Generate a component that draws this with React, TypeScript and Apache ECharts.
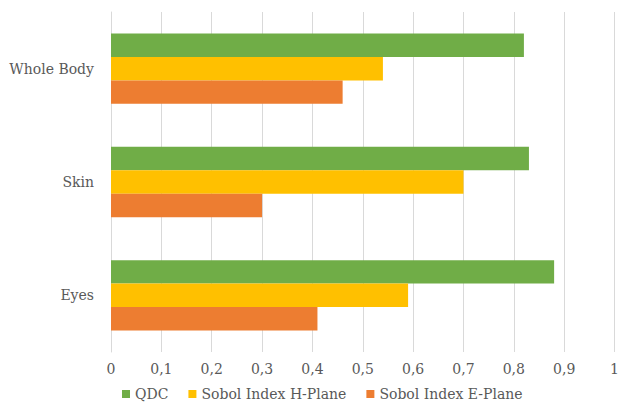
import React, { useEffect, useRef } from "react";
import * as echarts from "echarts";

const categories = ["Eyes", "Skin", "Whole Body"];
const seriesNames = ["QDC", "Sobol Index H-Plane", "Sobol Index E-Plane"];
const qdc = [0.88, 0.83, 0.82];
const sobolH = [0.59, 0.7, 0.54];
const sobolE = [0.41, 0.3, 0.46];
const colors = ["#70AD47", "#FFC000", "#ED7D31"];

const FONT = "DejaVu Serif";
const TEXT_COLOR = "#595959";

export default function App() {
  const ref = useRef<HTMLDivElement>(null);

  useEffect(() => {
    if (!ref.current) return;
    const chart = echarts.init(ref.current, undefined, { renderer: "svg" });
    const values = [qdc, sobolH, sobolE];
    chart.setOption({
      animation: false,
      textStyle: { fontFamily: FONT },
      grid: { left: 111, right: 3, top: 12, bottom: 52, containLabel: false },
      legend: {
        left: 117,
        top: 382,
        icon: "rect",
        itemWidth: 8,
        itemHeight: 8,
        itemGap: 20,
        textStyle: { color: TEXT_COLOR, fontSize: 14, fontFamily: FONT },
        data: seriesNames,
      },
      xAxis: {
        type: "value",
        min: 0,
        max: 1,
        interval: 0.1,
        axisLine: { show: false },
        axisTick: { show: false },
        splitLine: { show: true, lineStyle: { color: "#D9D9D9", width: 1 } },
        axisLabel: {
          color: TEXT_COLOR,
          fontSize: 14,
          fontFamily: FONT,
          margin: 10,
          formatter: (v: number) => {
            const r = Math.round(v * 10) / 10;
            return r === 0 || r === 1 ? String(r) : r.toFixed(1).replace(".", ",");
          },
        },
      },
      yAxis: {
        type: "category",
        data: categories,
        axisLine: { show: true, lineStyle: { color: "#D9D9D9" } },
        axisTick: { show: false },
        axisLabel: { color: TEXT_COLOR, fontSize: 14, fontFamily: FONT, margin: 17 },
      },
      series: seriesNames.map((name, i) => ({
        name,
        type: "bar",
        data: values[i],
        itemStyle: { color: colors[i] },
        barGap: "0%",
        barCategoryGap: "38%",
      })),
    });
    return () => chart.dispose();
  }, []);

  return (
    <div
      ref={ref}
      style={{ position: "fixed", left: 0, top: 0, width: 622, height: 404, background: "#fff" }}
    />
  );
}
